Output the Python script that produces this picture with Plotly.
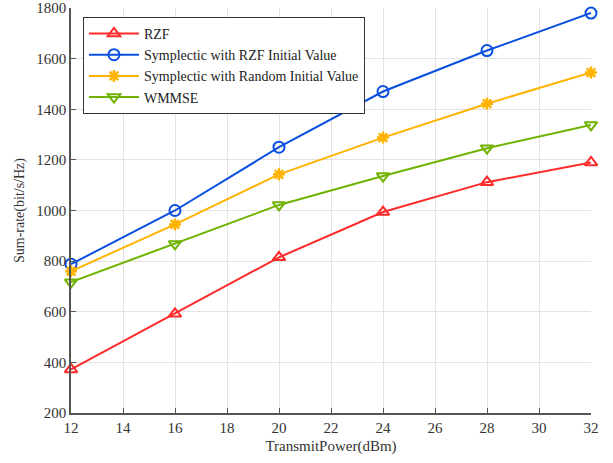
import plotly.graph_objects as go

power = [12, 16, 20, 24, 28, 32]
rzf = [372, 592, 815, 994, 1112, 1190]
symp_rzf = [788, 1000, 1250, 1470, 1632, 1780]
symp_rand = [760, 945, 1143, 1288, 1422, 1545]
wmmse = [717, 868, 1022, 1136, 1246, 1338]

names = ["RZF", "Symplectic with RZF Initial Value",
         "Symplectic with Random Initial Value", "WMMSE"]
colors = ["#FF2A2A", "#0A4FE0", "#FFB300", "#6FB300"]
symbols = ["triangle-up-open", "circle-open", "asterisk-open", "triangle-down-open"]
series = [rzf, symp_rzf, symp_rand, wmmse]

fig = go.Figure()
for n, c, s, y in zip(names, colors, symbols, series):
    fig.add_trace(go.Scatter(
        x=power, y=y, name=n, mode="lines+markers",
        line=dict(color=c, width=2),
        marker=dict(symbol=s, size=11 if s != "asterisk-open" else 10,
                    color=c, line=dict(color=c, width=2.5 if s == "asterisk-open" else 2)),
        cliponaxis=False,
    ))

serif = "Liberation Serif"
tickfont = dict(family=serif, size=15, color="#333333")
fig.update_layout(
    width=613, height=463,
    margin=dict(l=71, r=22, t=8, b=50, autoexpand=False),
    paper_bgcolor="white", plot_bgcolor="white",
    font=dict(family=serif, size=15, color="#333333"),
    showlegend=True,
    legend=dict(x=0.023, y=0.978, xanchor="left", yanchor="top",
                bgcolor="white", bordercolor="#333333", borderwidth=1,
                font=dict(family=serif, size=14, color="#222222"),
                tracegroupgap=0, itemwidth=50),
    xaxis=dict(range=[12, 32], tickvals=list(range(12, 33, 2)),
               tickfont=tickfont, ticklabeloverflow="allow", automargin=False,
               showgrid=True, gridcolor="#E3E3E3", gridwidth=1,
               showline=True, linecolor="#555555", linewidth=1.5,
               ticks="inside", ticklen=5, tickcolor="#555555",
               zeroline=False, mirror=False,
               title=dict(text="TransmitPower(dBm)", standoff=6,
                          font=dict(family=serif, size=15, color="#333333"))),
    yaxis=dict(range=[200, 1800], tickvals=list(range(200, 1801, 200)),
               tickfont=tickfont, ticklabeloverflow="allow", automargin=False,
               showgrid=True, gridcolor="#E3E3E3", gridwidth=1,
               showline=True, linecolor="#555555", linewidth=1.5,
               ticks="inside", ticklen=5, tickcolor="#555555",
               zeroline=False, mirror=False,
               title=dict(text="Sum-rate(bit/s/Hz)", standoff=8,
                          font=dict(family=serif, size=14, color="#333333"))),
)
fig.write_html("out.html")
